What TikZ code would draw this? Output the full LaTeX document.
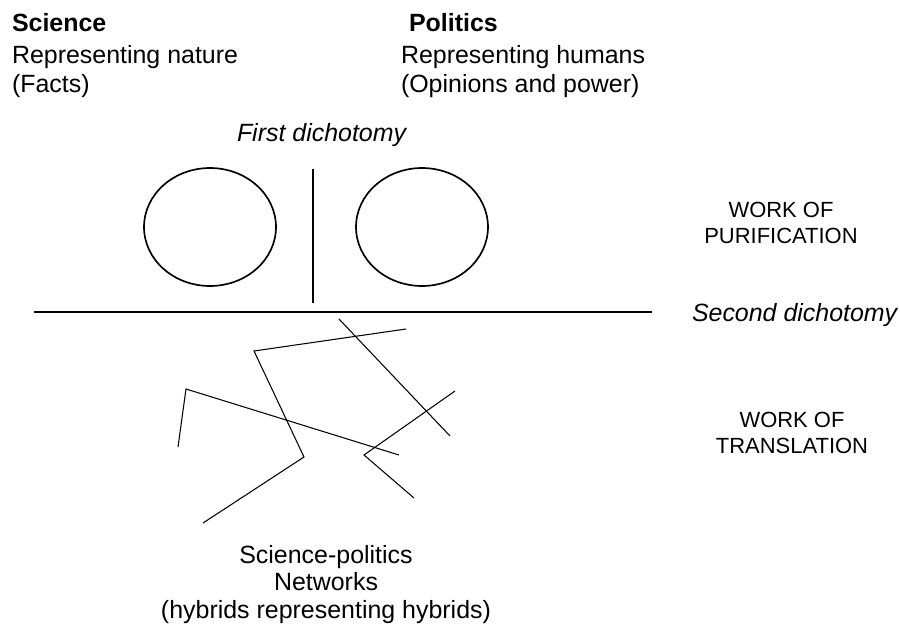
\documentclass[tikz,border=0pt]{standalone}
\usepackage{fontspec}
\setmainfont{Liberation Sans}
\usetikzlibrary{shapes.geometric}

\begin{document}
\begin{tikzpicture}[
  x=0.02cm, y=-0.02cm,
  every node/.style={inner sep=0pt, outer sep=0pt},
  head/.style={anchor=base west, font=\fontsize{14.2}{16.4}\selectfont\bfseries},
  desc/.style={anchor=base west, align=left, font=\fontsize{14.2}{16.4}\selectfont},
  dicho/.style={anchor=base west, font=\fontsize{14.2}{16.4}\selectfont\itshape},
  work/.style={anchor=base, align=center, font=\fontsize{12.5}{14.8}\selectfont},
  realm/.style={draw, ellipse, line width=0.95pt, minimum width=2.64cm, minimum height=2.36cm},
  divide/.style={line width=1.5pt},
  net/.style={line width=0.6pt}
]

\fill[white] (0,0) rectangle (900,629);

% the two columns (multi-line nodes sit on their last baseline)
\node[head] (sci) at (12,31) {Science};
\node[desc] (scidesc) at (12,92) {Representing nature\\(Facts)};
\node[head] (pol) at (409,31) {Politics};
\node[desc] (poldesc) at (401,92) {Representing humans\\(Opinions and power)};

\node[dicho] (first) at (237,141) {First dichotomy};

\node[realm] (nature) at (210,227) {};
\node[realm] (humans) at (422,227) {};
\draw[divide] (313,169) -- (313,303);

\draw[divide] (34,312) -- (652,312);
\node[dicho] (second) at (692,321) {Second dichotomy};

\node[work] (purif) at (781,243) {WORK OF\\PURIFICATION};
\node[work] (transl) at (792,453) {WORK OF\\TRANSLATION};

% hybrid networks below the line
\draw[net] (406,329) -- (254,351) -- (304,457) -- (203,523);
\draw[net] (339,319) -- (450,436);
\draw[net] (455,391) -- (364,455) -- (414,498);
\draw[net] (178,447) -- (186,389) -- (399,455);

\node[work, font=\fontsize{14.2}{15.6}\selectfont] (hybrids) at (326,618)
  {Science-politics\\Networks\\(hybrids representing hybrids)};

\end{tikzpicture}
\end{document}
